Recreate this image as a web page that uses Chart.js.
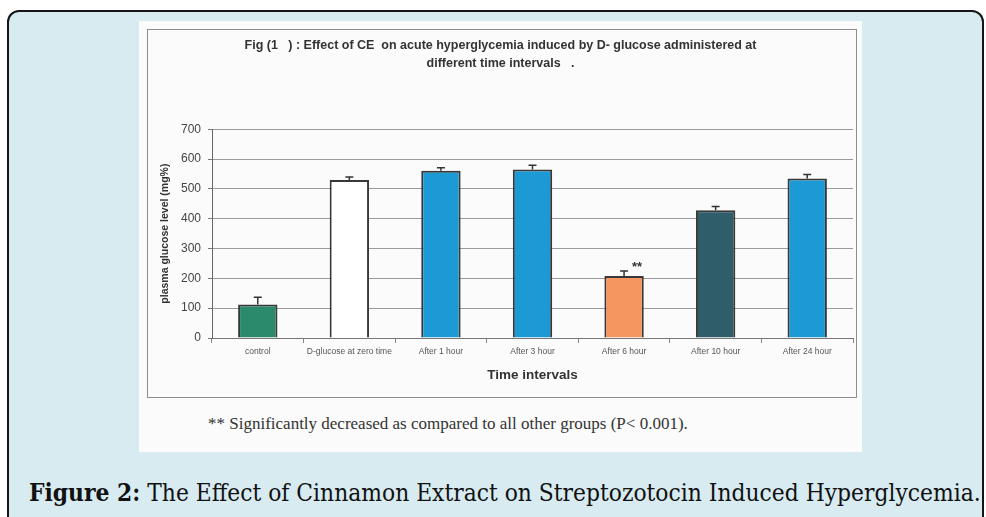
<!DOCTYPE html>
<html>
<head>
<meta charset="utf-8">
<script src="https://cdn.jsdelivr.net/npm/chart.js@4.4.1/dist/chart.umd.min.js"></script>
<style>
  html, body { margin: 0; padding: 0; width: 986px; height: 517px; overflow: hidden; background: #ffffff; }
  #panel {
    position: absolute; left: 7px; top: 10px; width: 973px; height: 520px;
    border: 2px solid #151515; border-radius: 12px; background: #d7ebf1;
  }
  #scan {
    position: absolute; left: 139px; top: 21px; width: 723px; height: 431px;
    background: #fbfbfb;
  }
  #box {
    position: absolute; left: 147px; top: 29px; width: 708px; height: 367px;
    border: 1px solid #8e8e8e;
  }
  #note {
    position: absolute; left: 208px; top: 414px; line-height: 20px;
    font-family: 'Liberation Serif', 'Times New Roman', serif; font-size: 17px; color: #333;
    white-space: nowrap;
  }
  #caption {
    position: absolute; left: 29px; top: 479px; line-height: 28px;
    font-family: 'DejaVu Serif Condensed', 'DejaVu Serif', serif; font-stretch: condensed;
    font-size: 24.3px; color: #111; white-space: nowrap;
  }
</style>
</head>
<body>
<div id="panel"></div>
<div id="scan"></div>
<div id="box"><canvas id="chartQuest" width="708" height="367"></canvas></div>
<div id="note">** Significantly decreased as compared to all other groups (P&lt; 0.001).</div>
<div id="caption"><b>Figure 2:</b> The Effect of Cinnamon Extract on Streptozotocin Induced Hyperglycemia.</div>

<script>
var groups = ['control', 'D-glucose at zero time', 'After 1 hour', 'After 3 hour', 'After 6 hour', 'After 10 hour', 'After 24 hour'];
var glucose = [112, 530, 561, 565, 208, 428, 535];
var glucoseErr = [25, 10, 10, 14, 17, 13, 13];
var barColors = ['#2b8a6c', '#ffffff', '#1c9ad6', '#1c9ad6', '#f5955f', '#2f5d69', '#1c9ad6'];
var yTicks = [0, 100, 200, 300, 400, 500, 600, 700];
var starGroup = 'After 6 hour';

document.addEventListener("DOMContentLoaded", function () {

  Chart.defaults.font.family = "'Liberation Sans', Arial, sans-serif";
  Chart.defaults.color = '#444';

  // upward error bars, plus the ** mark
  var errorBars = {
    id: 'errorBars',
    afterDatasetsDraw: function (chart) {
      var ctx = chart.ctx;
      var meta = chart.getDatasetMeta(0);
      var yScale = chart.scales.y;
      ctx.save();
      ctx.strokeStyle = '#333';
      ctx.lineWidth = 1.5;
      meta.data.forEach(function (bar, i) {
        var top = yScale.getPixelForValue(glucose[i] + glucoseErr[i]);
        ctx.beginPath();
        ctx.moveTo(bar.x, bar.y);
        ctx.lineTo(bar.x, top);
        ctx.moveTo(bar.x - 4, top);
        ctx.lineTo(bar.x + 4, top);
        ctx.stroke();
        if (groups[i] == starGroup) {
          ctx.fillStyle = '#333';
          ctx.font = "bold 13px 'Liberation Sans', Arial, sans-serif";
          ctx.textAlign = 'center';
          ctx.textBaseline = 'middle';
          ctx.fillText('**', bar.x + 13, top - 3);
        }
      });
      ctx.restore();
    }
  };

  var ctx = document.getElementById('chartQuest');
  var myChart = new Chart(ctx, {
    type: 'bar',
    data: {
      labels: groups,
      datasets: [
        {
          label: 'plasma glucose',
          data: glucose,
          backgroundColor: barColors,
          borderColor: '#383838',
          borderWidth: 2,
          barPercentage: 0.43,
          categoryPercentage: 1
        }
      ]
    },
    plugins: [errorBars],
    options: {
      responsive: false,
      animation: false,
      layout: { padding: { left: 0, right: 3, top: 0, bottom: 0 } },
      scales: {
        x: {
          afterFit: function (scale) { scale.height = 59; },
          grid: { drawOnChartArea: false, drawTicks: true, tickLength: 5, color: '#888' },
          border: { color: '#777', width: 1 },
          ticks: { font: { size: 8.5 }, color: '#555', padding: 4, maxRotation: 0, autoSkip: false },
          title: {
            display: true,
            text: 'Time intervals',
            font: { size: 13.5, weight: 'bold' },
            color: '#333',
            padding: { top: 0, bottom: 14 }
          }
        },
        y: {
          min: 0,
          max: 700,
          afterFit: function (scale) { scale.width = 64; },
          afterBuildTicks: function (scale) {
            scale.ticks = yTicks.map(function (v) { return { value: v }; });
          },
          grid: { color: '#9a9a9a', lineWidth: 1, drawTicks: true, tickLength: 4, tickColor: '#777' },
          border: { color: '#666', width: 1 },
          ticks: { font: { size: 12 }, color: '#444', padding: 7 },
          title: {
            display: true,
            text: 'plasma glucose level (mg%)',
            font: { size: 10.5, weight: 'bold' },
            color: '#333',
            padding: { top: 11, bottom: 0 }
          }
        }
      },
      plugins: {
        legend: { display: false },
        tooltip: { enabled: false },
        title: {
          display: true,
          text: ['Fig (1   ) : Effect of CE  on acute hyperglycemia induced by D- glucose administered at', 'different time intervals   .'],
          font: { size: 12.5, weight: 'bold', lineHeight: 1.45 },
          color: '#333',
          padding: { top: 6, bottom: 57 }
        }
      }
    }
  });

});
</script>
</body>
</html>
